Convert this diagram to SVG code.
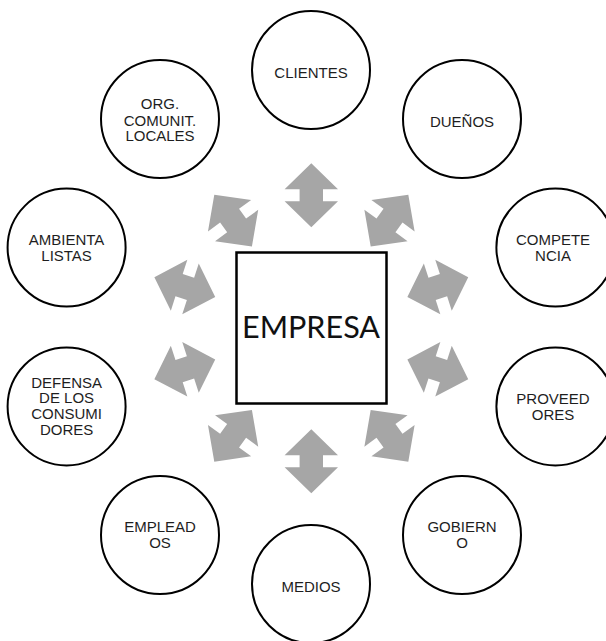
<svg xmlns="http://www.w3.org/2000/svg" xmlns:xlink="http://www.w3.org/1999/xlink" width="606" height="641" viewBox="0 0 606 641">
<style>
.c{fill:#fff;stroke:#000;stroke-width:2}
.t{font-family:"Liberation Sans",Arial,sans-serif;font-size:15px;fill:#1e1e1e;text-anchor:middle}
.a{fill:#a6a6a6}
</style>
<defs>
<polygon id="dbl" points="0,-32 26.7,-6 11.7,-6 11.7,6 26.7,6 0,32 -26.7,6 -11.7,6 -11.7,-6 -26.7,-6"/>
</defs>
<rect width="606" height="641" fill="#fff"/>
<g id="connectors" class="a">
<use xlink:href="#dbl" transform="translate(311.3,195.2)"/>
<use xlink:href="#dbl" transform="translate(389.5,220.6) rotate(36)"/>
<use xlink:href="#dbl" transform="translate(437.8,287.1) rotate(72)"/>
<use xlink:href="#dbl" transform="translate(437.8,369.3) rotate(108)"/>
<use xlink:href="#dbl" transform="translate(389.5,435.8) rotate(144)"/>
<use xlink:href="#dbl" transform="translate(311.3,461.2)"/>
<use xlink:href="#dbl" transform="translate(233.1,435.8) rotate(216)"/>
<use xlink:href="#dbl" transform="translate(184.8,369.3) rotate(252)"/>
<use xlink:href="#dbl" transform="translate(184.8,287.1) rotate(288)"/>
<use xlink:href="#dbl" transform="translate(233.1,220.6) rotate(324)"/>
</g>
<g id="empresa">
<rect x="236.5" y="252.5" width="150" height="151" fill="#fff" stroke="#000" stroke-width="2.5"/>
<text x="311" y="337.5" font-family="Lato,'Open Sans',sans-serif" font-size="31" fill="#111" text-anchor="middle" textLength="138" lengthAdjust="spacingAndGlyphs">EMPRESA</text>
</g>
<g id="clientes">
<circle class="c" cx="311" cy="70" r="59"/>
<text class="t" x="311" y="78">CLIENTES</text>
</g>
<g id="duenos">
<circle class="c" cx="462" cy="119" r="59"/>
<text class="t" x="462" y="127">DUEÑOS</text>
</g>
<g id="competencia">
<circle class="c" cx="555.4" cy="247.6" r="59"/>
<text class="t" x="553" y="245">COMPETE</text>
<text class="t" x="553" y="260.7">NCIA</text>
</g>
<g id="proveedores">
<circle class="c" cx="555.4" cy="406.4" r="59"/>
<text class="t" x="553" y="403.8">PROVEED</text>
<text class="t" x="553" y="419.5">ORES</text>
</g>
<g id="gobierno">
<circle class="c" cx="462" cy="535" r="59"/>
<text class="t" x="462" y="532.4">GOBIERN</text>
<text class="t" x="462" y="548.1">O</text>
</g>
<g id="medios">
<circle class="c" cx="311" cy="584" r="59"/>
<text class="t" x="311" y="592">MEDIOS</text>
</g>
<g id="empleados">
<circle class="c" cx="160" cy="535" r="59"/>
<text class="t" x="160" y="532.4">EMPLEAD</text>
<text class="t" x="160" y="548.1">OS</text>
</g>
<g id="defensa">
<circle class="c" cx="66.6" cy="406.4" r="59"/>
<text class="t" x="66.6" y="387.6">DEFENSA</text>
<text class="t" x="66.6" y="403.3">DE LOS</text>
<text class="t" x="66.6" y="419">CONSUMI</text>
<text class="t" x="66.6" y="434.7">DORES</text>
</g>
<g id="ambientalistas">
<circle class="c" cx="66.6" cy="247.6" r="59"/>
<text class="t" x="66.6" y="245">AMBIENTA</text>
<text class="t" x="66.6" y="260.7">LISTAS</text>
</g>
<g id="org">
<circle class="c" cx="160" cy="119" r="59"/>
<text class="t" x="160" y="109.3">ORG.</text>
<text class="t" x="160" y="125.6">COMUNIT.</text>
<text class="t" x="160" y="141">LOCALES</text>
</g>
</svg>
